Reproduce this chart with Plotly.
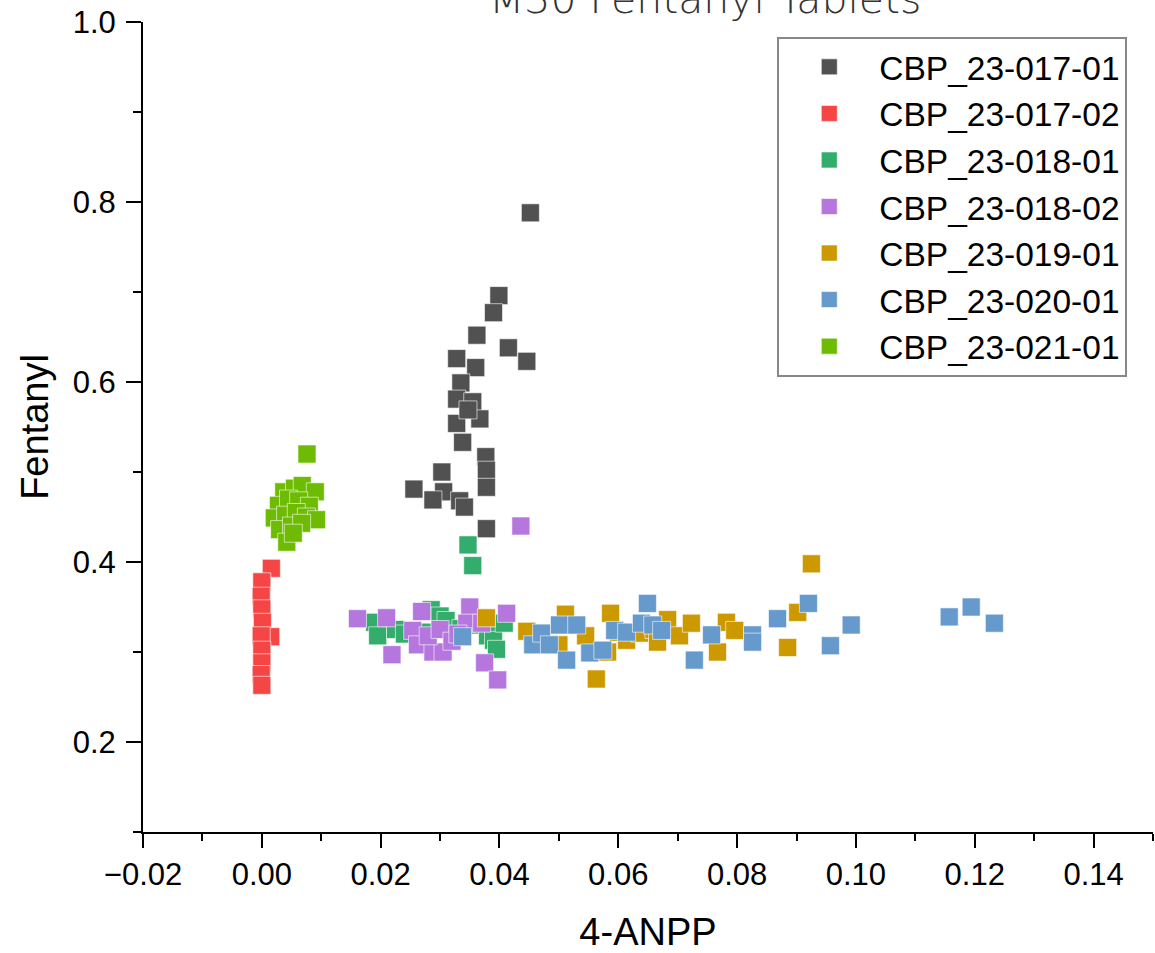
import plotly.graph_objects as go

series_names = ["CBP_23-017-01", "CBP_23-017-02", "CBP_23-018-01", "CBP_23-018-02",
                "CBP_23-019-01", "CBP_23-020-01", "CBP_23-021-01"]
series_colors = ["#515151", "#F64545", "#33AD6B", "#B577DE", "#CC9900", "#6699CC", "#6DBB03"]

x_017_01 = [0.0452, 0.0399, 0.0390, 0.0415, 0.0446, 0.0362, 0.0328, 0.0360, 0.0335, 0.0328,
            0.0355, 0.0367, 0.0328, 0.0338, 0.0347, 0.0377, 0.0378, 0.0378, 0.0303, 0.0256,
            0.0306, 0.0288, 0.0333, 0.0341, 0.0378]
y_017_01 = [0.788, 0.696, 0.677, 0.638, 0.623, 0.652, 0.626, 0.616, 0.599, 0.581,
            0.578, 0.559, 0.554, 0.533, 0.569, 0.517, 0.502, 0.483, 0.500, 0.481,
            0.478, 0.469, 0.468, 0.461, 0.437]

x_017_02 = [0.0016, 0.0000, -0.0001, 0.0000, 0.0001, 0.0015, -0.0001, 0.0000, 0.0000, -0.0001, 0.0000]
y_017_02 = [0.393, 0.378, 0.362, 0.348, 0.333, 0.317, 0.318, 0.302, 0.288, 0.275, 0.263]

x_018_01 = [0.0190, 0.0195, 0.0225, 0.0240, 0.0285, 0.0300, 0.0310, 0.0335, 0.0350, 0.0380,
            0.0390, 0.0395, 0.0408, 0.0347, 0.0355, 0.0270, 0.0320]
y_018_01 = [0.333, 0.318, 0.325, 0.320, 0.347, 0.340, 0.335, 0.326, 0.330, 0.318,
            0.313, 0.303, 0.332, 0.419, 0.396, 0.322, 0.316]

x_018_02 = [0.0161, 0.0210, 0.0219, 0.0269, 0.0254, 0.0262, 0.0288, 0.0305, 0.0280, 0.0300,
            0.0320, 0.0350, 0.0345, 0.0370, 0.0375, 0.0397, 0.0412, 0.0436, 0.0330]
y_018_02 = [0.337, 0.338, 0.297, 0.345, 0.324, 0.308, 0.300, 0.300, 0.318, 0.325,
            0.312, 0.350, 0.332, 0.332, 0.288, 0.269, 0.343, 0.440, 0.320]

x_019_01 = [0.0378, 0.0446, 0.0500, 0.0511, 0.0545, 0.0563, 0.0582, 0.0587, 0.0600, 0.0614,
            0.0636, 0.0660, 0.0666, 0.0683, 0.0703, 0.0723, 0.0767, 0.0782, 0.0796, 0.0885,
            0.0902, 0.0925]
y_019_01 = [0.338, 0.323, 0.308, 0.342, 0.318, 0.270, 0.300, 0.343, 0.322, 0.313,
            0.321, 0.325, 0.311, 0.336, 0.318, 0.332, 0.300, 0.333, 0.324, 0.305,
            0.344, 0.398]

x_020_01 = [0.0338, 0.0456, 0.0471, 0.0484, 0.0501, 0.0513, 0.0530, 0.0552, 0.0574, 0.0594,
            0.0614, 0.0639, 0.0649, 0.0658, 0.0673, 0.0728, 0.0757, 0.0826, 0.0826, 0.0868,
            0.0920, 0.0957, 0.0992, 0.1157, 0.1194, 0.1233]
y_020_01 = [0.317, 0.308, 0.321, 0.308, 0.330, 0.291, 0.330, 0.299, 0.302, 0.324,
            0.322, 0.332, 0.354, 0.330, 0.324, 0.291, 0.319, 0.319, 0.311, 0.337,
            0.354, 0.307, 0.330, 0.339, 0.350, 0.332]

x_021_01 = [0.0037, 0.0055, 0.0068, 0.0090, 0.0028, 0.0045, 0.0062, 0.0080, 0.0021, 0.0040,
            0.0058, 0.0075, 0.0092, 0.0030, 0.0050, 0.0067, 0.0042, 0.0053, 0.0076]
y_021_01 = [0.478, 0.482, 0.485, 0.478, 0.463, 0.470, 0.468, 0.462, 0.449, 0.452,
            0.455, 0.450, 0.447, 0.436, 0.440, 0.443, 0.422, 0.432, 0.520]

x_data = [x_017_01, x_017_02, x_018_01, x_018_02, x_019_01, x_020_01, x_021_01]
y_data = [y_017_01, y_017_02, y_018_01, y_018_02, y_019_01, y_020_01, y_021_01]

x_tickvals = [-0.02, 0.00, 0.02, 0.04, 0.06, 0.08, 0.10, 0.12, 0.14]
x_ticktext = ["\u22120.02", "0.00", "0.02", "0.04", "0.06", "0.08", "0.10", "0.12", "0.14"]
y_tickvals = [0.2, 0.4, 0.6, 0.8, 1.0]
y_ticktext = ["0.2", "0.4", "0.6", "0.8", "1.0"]

chart_title = "M30 Fentanyl Tablets"
x_title = "4-ANPP"
y_title = "Fentanyl"

FONT = "Liberation Sans, Arial, sans-serif"

fig = go.Figure()
for name, color, xs, ys in zip(series_names, series_colors, x_data, y_data):
    fig.add_trace(go.Scatter(
        x=xs, y=ys, mode="markers", name=name,
        marker=dict(symbol="square", size=18, color=color,
                    line=dict(color="rgba(255,255,255,0.6)", width=1)),
    ))

axis_common = dict(
    showline=True, linecolor="black", linewidth=2, mirror=False,
    showgrid=False, zeroline=False,
    ticks="outside", tickwidth=2, tickcolor="black",
    tickfont=dict(family=FONT, size=31, color="black"),
)

fig.update_xaxes(
    range=[-0.02, 0.15], tickvals=x_tickvals, ticktext=x_ticktext, ticklen=14,
    minor=dict(ticks="outside", ticklen=7, tickwidth=2, tickcolor="black", dtick=0.01, tick0=-0.02, showgrid=False),
    title=dict(text=x_title, font=dict(family=FONT, size=38, color="black"), standoff=30),
    ticklabelstandoff=0,
    **axis_common,
)
fig.update_yaxes(
    range=[0.1, 1.0], tickvals=y_tickvals, ticktext=y_ticktext, ticklen=15,
    minor=dict(ticks="outside", ticklen=8, tickwidth=2, tickcolor="black", dtick=0.1, tick0=0.1, showgrid=False),
    title=dict(text=y_title, font=dict(family=FONT, size=38, color="black"), standoff=12),
    ticklabelstandoff=4,
    **axis_common,
)

fig.add_annotation(
    text=chart_title, xref="paper", yref="paper", x=0.556, y=0.996,
    xanchor="center", yanchor="bottom", showarrow=False,
    font=dict(family="DejaVu Sans, sans-serif", size=41, color="#333333", weight=300),
)

fig.update_layout(
    width=1155, height=953,
    margin=dict(l=143, r=2, t=22, b=121),
    plot_bgcolor="white", paper_bgcolor="white",
    showlegend=True,
    legend=dict(
        x=0.628, y=0.982, xanchor="left", yanchor="top",
        bgcolor="white", bordercolor="#888888", borderwidth=2,
        font=dict(family=FONT, size=33.5, color="black"),
        itemwidth=90, tracegroupgap=0,
    ),
)

fig.write_html("out.html")
